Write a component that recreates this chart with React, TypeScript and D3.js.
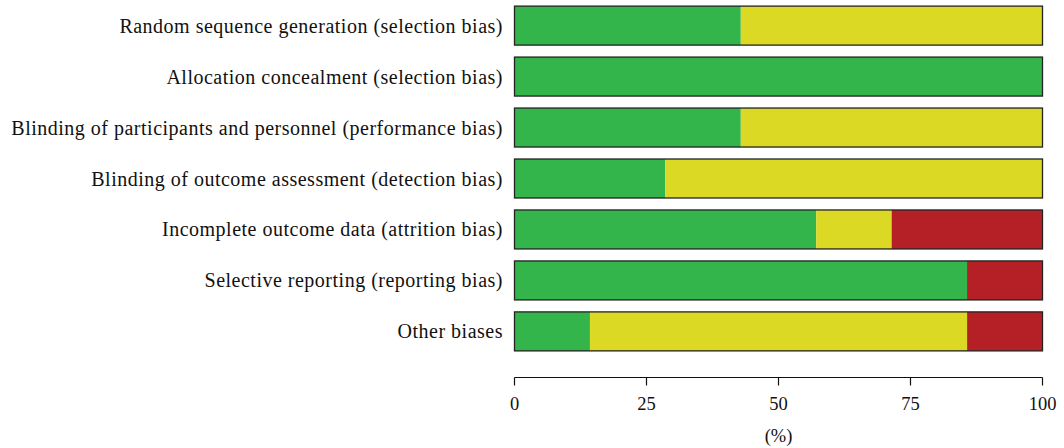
import React from "react";
import * as d3 from "d3";

const categories = [
  "Random sequence generation (selection bias)",
  "Allocation concealment (selection bias)",
  "Blinding of participants and personnel (performance bias)",
  "Blinding of outcome assessment (detection bias)",
  "Incomplete outcome data (attrition bias)",
  "Selective reporting (reporting bias)",
  "Other biases",
];
const lowRisk = [42.86, 100, 42.86, 28.57, 57.14, 85.71, 14.29];
const unclearRisk = [57.14, 0, 57.14, 71.43, 14.29, 0, 71.43];
const highRisk = [0, 0, 0, 0, 28.57, 14.29, 14.29];
const xTicks = [0, 25, 50, 75, 100];
const seriesColors = ["#33b54b", "#dbd924", "#b52027"];

export default function App() {
  const W = 1064, H = 448;
  const x = d3.scaleLinear().domain([0, 100]).range([514.5, 1042.5]);
  const y = d3.scaleBand<string>().domain(categories).range([0, 357]).paddingInner(0.235).paddingOuter(0.12);
  const series = [lowRisk, unclearRisk, highRisk];
  const font = "'Liberation Serif', 'Times New Roman', serif";
  const axisY = 377.5;
  return (
    <svg width={W} height={H} style={{ position: "absolute", left: 0, top: 0 }}>
      {categories.map((c, i) => {
        let acc = 0;
        const y0 = y(c)!;
        return (
          <g key={c}>
            {series.map((s, k) => {
              const v = s[i];
              const x0 = x(acc);
              acc += v;
              if (v <= 0) return null;
              return <rect key={k} x={x0} y={y0} width={x(acc) - x0} height={y.bandwidth()} fill={seriesColors[k]} />;
            })}
            <rect x={x(0)} y={y0} width={x(100) - x(0)} height={y.bandwidth()} fill="none" stroke="#222" strokeWidth={1.3} />
            <text x={503} y={y0 + y.bandwidth() / 2} dy="0.35em" textAnchor="end" fontFamily={font} fontSize={20} letterSpacing={0.5} fill="#111">{c}</text>
          </g>
        );
      })}
      <line x1={x(0)} x2={x(100)} y1={axisY} y2={axisY} stroke="#111" strokeWidth={1.2} />
      {xTicks.map(t => (
        <g key={t}>
          <line x1={x(t)} x2={x(t)} y1={axisY} y2={axisY + 8} stroke="#111" strokeWidth={1.2} />
          <text x={x(t)} y={404} dy="0.35em" textAnchor="middle" fontFamily={font} fontSize={18.5} fill="#111">{t}</text>
        </g>
      ))}
      <text x={x(50)} y={436} dy="0.35em" textAnchor="middle" fontFamily={font} fontSize={18.5} fill="#111">(%)</text>
    </svg>
  );
}
